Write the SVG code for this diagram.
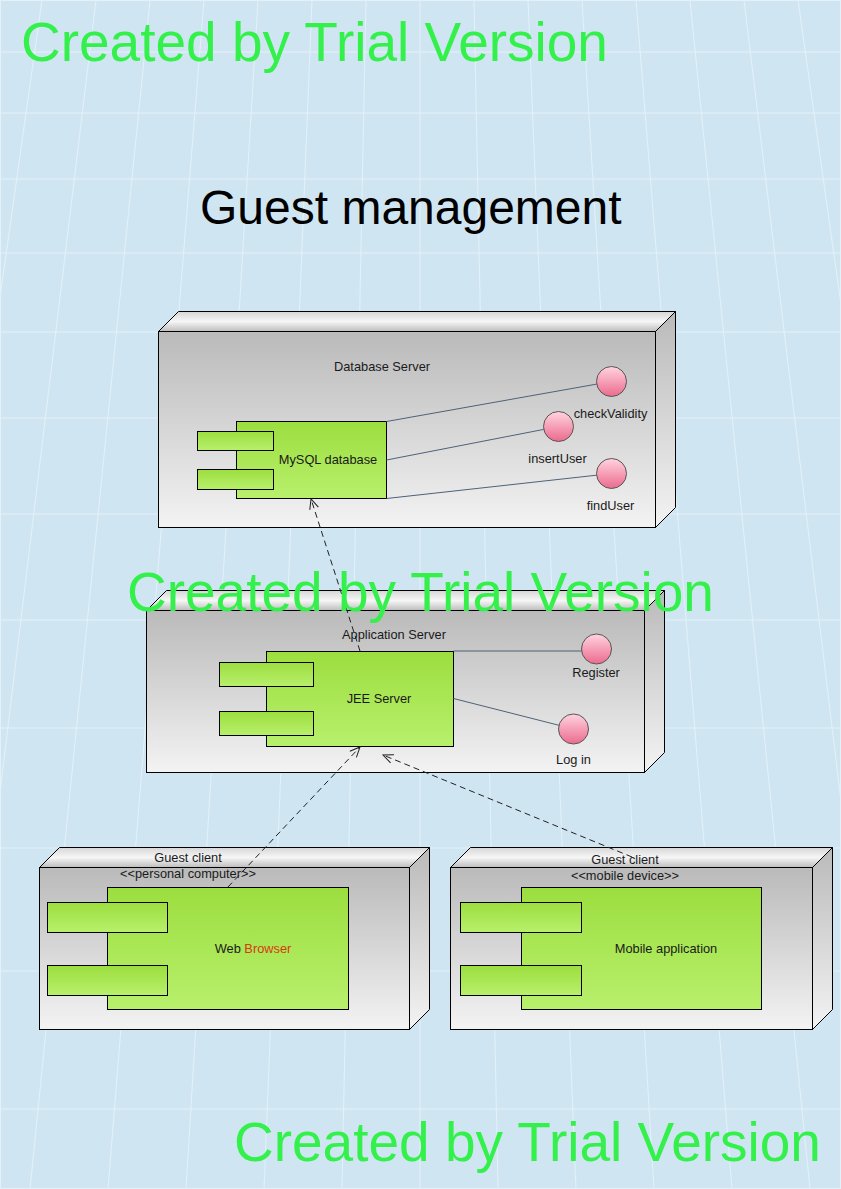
<svg xmlns="http://www.w3.org/2000/svg" width="841" height="1189" viewBox="0 0 841 1189">
<defs>
<linearGradient id="gFront" x1="0" y1="0" x2="0" y2="1"><stop offset="0" stop-color="#bababa"/><stop offset="1" stop-color="#f3f3f3"/></linearGradient>
<linearGradient id="gTop" x1="0" y1="0" x2="0" y2="1"><stop offset="0" stop-color="#d6d6d6"/><stop offset="0.5" stop-color="#f6f6f6"/><stop offset="1" stop-color="#bdbdbd"/></linearGradient>
<linearGradient id="gGreen" x1="0" y1="0" x2="0" y2="1"><stop offset="0" stop-color="#9cde3f"/><stop offset="1" stop-color="#b8f06c"/></linearGradient>
<linearGradient id="gPink" x1="0" y1="0" x2="0" y2="1"><stop offset="0" stop-color="#ffd4df"/><stop offset="1" stop-color="#ec6a8e"/></linearGradient>
<marker id="arrowOpen" viewBox="-11 -6 12 12" refX="0" refY="0" markerWidth="12" markerHeight="12" orient="auto" markerUnits="userSpaceOnUse"><path d="M-10,-4.5 L0,0 L-10,4.5" fill="none" stroke="#202020" stroke-width="1"/></marker>
<style>
.front{fill:url(#gFront);stroke:#000;stroke-width:1}
.top{fill:url(#gTop);stroke:#000;stroke-width:1}
.side{fill:url(#gFront);stroke:#000;stroke-width:1}
.comp{fill:url(#gGreen);stroke:#000;stroke-width:1}
.iface{fill:url(#gPink);stroke:#555;stroke-width:1}
.lbl{font-family:"Liberation Sans",Arial,sans-serif;font-size:12.8px;fill:#1a1a1a;text-anchor:middle}
.link{stroke:#4d6278;stroke-width:1;fill:none}
.dep{stroke:#202020;stroke-width:1;fill:none;stroke-dasharray:6 4;marker-end:url(#arrowOpen)}
.grid{stroke:#e4f1f8;stroke-width:1;fill:none}
.wm{font-family:"Liberation Sans",Arial,sans-serif;font-size:55px;fill:#33f04a}
</style>
</defs>
<rect x="0" y="0" width="841" height="1189" fill="#cfe6f2"/>
<g id="grid">
<path class="grid" d="M0,52H841M0,113H841M0,179H841M0,253H841M0,332H841M0,418H841M0,514H841M0,620H841M0,728H841M0,848H841M0,971H841M0,1109H841"/>
<path class="grid" d="M-12,0L-204,1189M42,0L-126,1189M96,0L-48,1189M150,0L30,1189M204,0L108,1189M258,0L186,1189M312,0L264,1189M366,0L342,1189M420,0L420,1189M474,0L498,1189M528,0L576,1189M582,0L654,1189M636,0L732,1189M690,0L810,1189M744,0L888,1189M798,0L966,1189"/>
<rect x="0.5" y="0.5" width="840" height="1188" fill="none" stroke="#e4f1f8"/>
</g>
<text x="200" y="224" style="font-family:'Liberation Sans',Arial,sans-serif;font-size:48px;fill:#000">Guest management</text>

<g id="node-database-server">
<polygon class="top" points="158.5,331.5 178.5,311.5 675.5,311.5 655.5,331.5"/>
<polygon class="side" points="655.5,331.5 675.5,311.5 675.5,507.5 655.5,527.5"/>
<rect class="front" x="158.5" y="331.5" width="497" height="196"/>
<text class="lbl" x="382" y="370.5">Database Server</text>
</g>
<g id="comp-mysql">
<rect class="comp" x="236.5" y="421.5" width="150" height="77"/>
<rect class="comp" x="197.5" y="431.5" width="76" height="19"/>
<rect class="comp" x="197.5" y="469.5" width="76" height="20"/>
<text class="lbl" x="328" y="463.5">MySQL database</text>
</g>

<g id="node-application-server">
<polygon class="top" points="146.5,610.5 166.5,590.5 664.5,590.5 644.5,610.5"/>
<polygon class="side" points="644.5,610.5 664.5,590.5 664.5,752.5 644.5,772.5"/>
<rect class="front" x="146.5" y="610.5" width="498" height="162"/>
<text class="lbl" x="394" y="638.5">Application Server</text>
</g>
<g id="comp-jee">
<rect class="comp" x="266.5" y="651.5" width="187" height="95"/>
<rect class="comp" x="219.5" y="662.5" width="94" height="24"/>
<rect class="comp" x="219.5" y="711.5" width="94" height="24"/>
<text class="lbl" x="379" y="702.5">JEE Server</text>
</g>

<g id="node-guest-pc">
<polygon class="top" points="39.5,867.5 59.5,847.5 429.5,847.5 409.5,867.5"/>
<polygon class="side" points="409.5,867.5 429.5,847.5 429.5,1009.5 409.5,1029.5"/>
<rect class="front" x="39.5" y="867.5" width="370" height="162"/>
<text class="lbl" x="188" y="861.5">Guest client</text>
<text class="lbl" x="188" y="877.5">&lt;&lt;personal computer&gt;&gt;</text>
</g>
<g id="comp-web-browser">
<rect class="comp" x="107.5" y="887.5" width="241" height="122"/>
<rect class="comp" x="47.5" y="902.5" width="120" height="30"/>
<rect class="comp" x="47.5" y="965.5" width="120" height="30"/>
<text class="lbl" x="253" y="952.5">Web <tspan fill="#d93a10">Browser</tspan></text>
</g>

<g id="node-guest-mobile">
<polygon class="top" points="450.5,867.5 470.5,847.5 832.5,847.5 812.5,867.5"/>
<polygon class="side" points="812.5,867.5 832.5,847.5 832.5,1009.5 812.5,1029.5"/>
<rect class="front" x="450.5" y="867.5" width="362" height="162"/>
<text class="lbl" x="625" y="863.5">Guest client</text>
<text class="lbl" x="625" y="879.5">&lt;&lt;mobile device&gt;&gt;</text>
</g>
<g id="comp-mobile-app">
<rect class="comp" x="521.5" y="887.5" width="240" height="122"/>
<rect class="comp" x="460.5" y="902.5" width="121" height="30"/>
<rect class="comp" x="460.5" y="965.5" width="121" height="30"/>
<text class="lbl" x="666" y="952.5">Mobile application</text>
</g>

<g id="connectors">
<line class="link" x1="386.5" y1="421.5" x2="596.7" y2="384.1"/>
<line class="link" x1="386.5" y1="460" x2="543.8" y2="429.4"/>
<line class="link" x1="386.5" y1="498.5" x2="596.6" y2="475.2"/>
<line class="link" x1="453.5" y1="651" x2="581.6" y2="651"/>
<line class="link" x1="453.5" y1="698.5" x2="559" y2="725.3"/>
<line class="dep" x1="360" y1="651" x2="311" y2="499"/>
<line class="dep" x1="228" y1="887" x2="360" y2="747"/>
<line class="dep" x1="632" y1="857" x2="383" y2="755"/>
</g>

<g id="iface-checkValidity"><circle class="iface" cx="611.5" cy="381.5" r="15"/><text class="lbl" x="610.5" y="418">checkValidity</text></g>
<g id="iface-insertUser"><circle class="iface" cx="558.5" cy="426.5" r="15"/><text class="lbl" x="557.5" y="462.5">insertUser</text></g>
<g id="iface-findUser"><circle class="iface" cx="611.5" cy="473.5" r="15"/><text class="lbl" x="610.5" y="509.5">findUser</text></g>
<g id="iface-register"><circle class="iface" cx="596.5" cy="649" r="15"/><text class="lbl" x="596" y="676.5">Register</text></g>
<g id="iface-login"><circle class="iface" cx="573.5" cy="729" r="15"/><text class="lbl" x="573.5" y="763.5">Log in</text></g>

<g id="watermarks">
<text class="wm" x="21" y="61">Created by Trial Version</text>
<text class="wm" x="127" y="611">Created by Trial Version</text>
<text class="wm" x="234" y="1161">Created by Trial Version</text>
</g>
</svg>
